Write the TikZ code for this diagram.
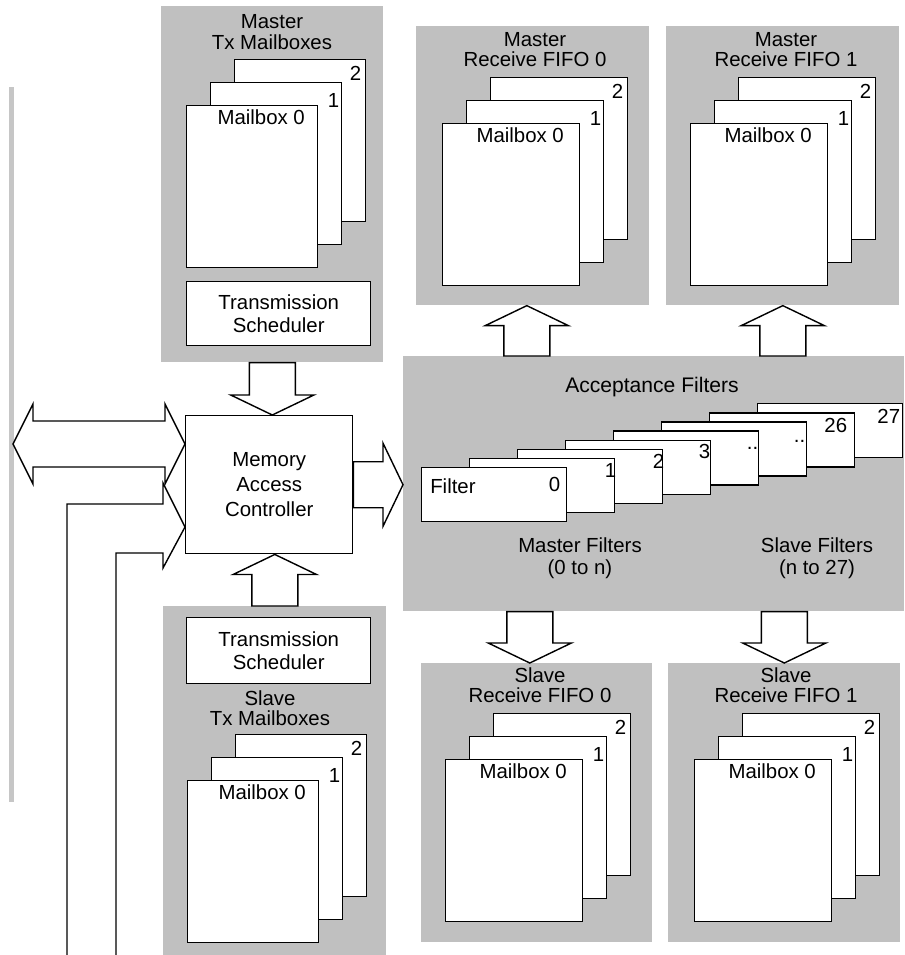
\documentclass[tikz,border=0pt]{standalone}
\usepackage{fontspec}
\setmainfont{Liberation Sans}
\usepackage{tikz}
\usetikzlibrary{calc}
\definecolor{PanelGray}{HTML}{C0C0C0}
\definecolor{RuleGray}{HTML}{C6C6C6}
\tikzset{
  PN/.style={rectangle,fill=PanelGray,draw=none,anchor=north west,inner sep=0pt},
  BX/.style={rectangle,draw,fill=white,line width=1pt,anchor=north west,inner sep=0pt,
             align=center,font=\fontsize{14.5}{17}\selectfont},
  MB/.style={BX,minimum width=3.425cm,minimum height=4.05cm},
  FC/.style={BX,minimum width=3.625cm,minimum height=1.35cm},
  TT/.style={align=center,inner sep=0pt,font=\fontsize{14.5}{14.5}\selectfont},
  LB/.style={inner sep=0pt,font=\fontsize{14.5}{15}\selectfont},
  RL/.style={draw=RuleGray,line width=0.1cm},
  LN/.style={draw,line width=1pt,line join=miter},
  BA/.style={draw,fill=white,line width=1pt,line join=miter,
    to path={let \p1=($(\tikztotarget)!0.5cm!(\tikztostart)$) in
      ($(\tikztostart)!0.575cm!90:(\tikztotarget)$)
      -- ($(\p1)!0.575cm!90:(\tikztotarget)$)
      -- ($(\p1)!1.04cm!90:(\tikztotarget)$)
      -- (\tikztotarget)
      -- ($(\p1)!1.04cm!-90:(\tikztotarget)$)
      -- ($(\p1)!0.575cm!-90:(\tikztotarget)$)
      -- ($(\tikztostart)!0.575cm!-90:(\tikztotarget)$) -- cycle}},
  BB/.style={draw,fill=white,line width=1pt,line join=miter,
    to path={let \p1=($(\tikztostart)!0.5cm!(\tikztotarget)$),
                 \p2=($(\tikztotarget)!0.5cm!(\tikztostart)$) in
      (\tikztostart)
      -- ($(\p1)!1cm!90:(\tikztotarget)$)
      -- ($(\p1)!0.575cm!90:(\tikztotarget)$)
      -- ($(\p2)!0.575cm!90:(\tikztotarget)$)
      -- ($(\p2)!1cm!90:(\tikztotarget)$)
      -- (\tikztotarget)
      -- ($(\p2)!1cm!-90:(\tikztotarget)$)
      -- ($(\p2)!0.575cm!-90:(\tikztotarget)$)
      -- ($(\p1)!0.575cm!-90:(\tikztotarget)$)
      -- ($(\p1)!1cm!-90:(\tikztotarget)$) -- cycle}}
}

\begin{document}
\begin{tikzpicture}[x=0.025cm,y=-0.025cm]
  \useasboundingbox (0,0) rectangle (904,955);

  % grey panels
  \node[PN,minimum width=5.55cm,minimum height=8.9cm] (mtxp) at (161,6) {};
  \node[PN,minimum width=5.825cm,minimum height=6.975cm] (mrf0p) at (416,26) {};
  \node[PN,minimum width=5.825cm,minimum height=6.975cm] (mrf1p) at (666,26) {};
  \node[PN,minimum width=12.525cm,minimum height=6.375cm] (afp) at (403,356) {};
  \node[PN,minimum width=5.775cm,minimum height=6.975cm] (srf0p) at (421,663) {};
  \node[PN,minimum width=5.8cm,minimum height=6.975cm] (srf1p) at (668,663) {};
  \node[PN,minimum width=5.575cm,minimum height=8.725cm] (stxp) at (163,606) {};
  \draw[RL] (11.5,87) -- (11.5,802);

  % panel titles
  \node[TT] (mtxt) at (272,32) {Master\\Tx Mailboxes};
  \node[TT] (mrf0t) at (535,49.5) {Master\\Receive FIFO 0};
  \node[TT] (mrf1t) at (786,49.5) {Master\\Receive FIFO 1};
  \node[TT] (srf0t) at (540,685) {Slave\\Receive FIFO 0};
  \node[TT] (srf1t) at (786,685) {Slave\\Receive FIFO 1};
  \node[TT] (stxt) at (270,708) {Slave\\Tx Mailboxes};
  \node[LB,anchor=base,font=\fontsize{15}{16}\selectfont] (aft) at (652,392) {Acceptance Filters};
  \node[TT,font=\fontsize{14.5}{16}\selectfont] (mft) at (580,558) {Master Filters\\(0 to n)};
  \node[TT,font=\fontsize{14.5}{16}\selectfont] (sft) at (817,558) {Slave Filters\\(n to 27)};

  % mailbox stacks
  \foreach \s/\x/\y/\w in {mtx/186/105/3.275,stx/187/780/3.275,mrf0/442/123/3.425,
                           mrf1/690/123/3.425,srf0/445/759/3.425,srf1/694/759/3.425} {
    \node[MB,minimum width=\w cm] (\s2) at (\x+48,\y-46) {};
    \node[LB,anchor=base east] (\s2l) at ($(\s2.north east)+(-5,21)$) {2};
    \node[MB,minimum width=\w cm] (\s1) at (\x+24,\y-23) {};
    \node[LB,anchor=base east] (\s1l) at ($(\s1.north east)+(-3,25)$) {1};
    \node[MB,minimum width=\w cm] (\s0) at (\x,\y) {};
    \node[LB,anchor=base] (\s0l) at ($(\s0.north)+(9,19)$) {Mailbox 0};
  }

  % filter cards
  \foreach \k/\lb/\dx/\dy in {7/27/-3/20,6/26/-8/20,5/{..}/-2/21,4/{..}/-1/19,
                              3/3/-1/19,2/2/1/20,1/1/1/20,0/0/-7/24} {
    \node[FC] (fc\k) at (421+48*\k,467-9.14*\k) {};
    \node[LB,anchor=base east] (lb\k) at ($(fc\k.north east)+(\dx,\dy)$) {\lb};
  }
  \node[LB,anchor=base west] (fcname) at ($(fc0.north west)+(9,26)$) {Filter};

  % controller and schedulers
  \node[BX,minimum width=4.175cm,minimum height=3.45cm,font=\fontsize{14.5}{18}\selectfont]
    (mac) at (185,415) {Memory\\Access\\Controller};
  \node[BX,minimum width=4.6cm,minimum height=1.6cm] (mts) at (186,281) {Transmission\\Scheduler};
  \node[BX,minimum width=4.6cm,minimum height=1.65cm] (sts) at (186,617) {Transmission\\Scheduler};

  % block arrows
  \coordinate (ext) at (13,444);
  \coordinate (extA) at (67,955);
  \coordinate (extB) at (116,955);
  \coordinate (up0) at ($(mrf0p.south)+(-6,0)$);
  \coordinate (dn0) at ($(srf0p.north)+(-7,0)$);

  \draw[BA] (mtxp.south) to (mtxp.south |- mac.north);
  \draw[BA] (stxp.north) to (stxp.north |- mac.south);
  \draw[BA] (mac.east) to (mac.east -| afp.west);
  \draw[BA] (up0 |- afp.north) to (up0);
  \draw[BA] (mrf1p.south |- afp.north) to (mrf1p.south);
  \draw[BA] (dn0 |- afp.south) to (dn0);
  \draw[BA] (srf1p.north |- afp.south) to (srf1p.north);
  \draw[BB] (ext) to (ext -| mac.west);
  \draw[LN] (extA) |- (163,504) -- (163,483) -- (mac.west |- 0,527)
    -- (163,568) -- (163,553) -| (extB);
\end{tikzpicture}
\end{document}
